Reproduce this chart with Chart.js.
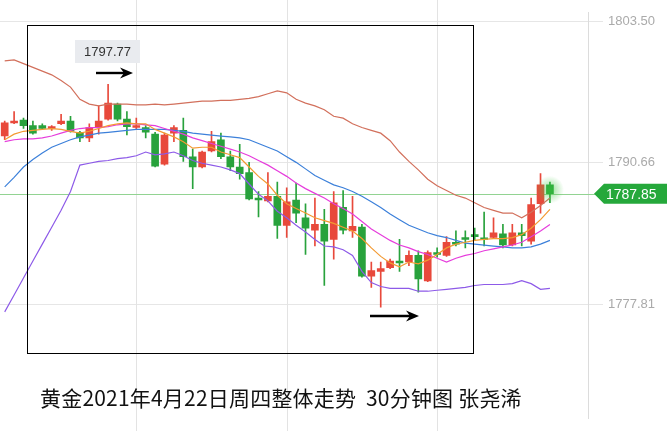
<!DOCTYPE html>
<html>
<head>
<meta charset="utf-8">
<script src="https://cdn.jsdelivr.net/npm/chart.js@4.4.0/dist/chart.umd.min.js"></script>
<style>
  html, body { margin: 0; padding: 0; background: #fff; }
  #wrap { position: relative; width: 671px; height: 431px; overflow: hidden; }
  #titulo {
    position: absolute; left: 40px; top: 383px;
    font-family: "Noto Sans CJK SC", "Noto Sans", sans-serif;
    font-size: 21px; letter-spacing: 0.2px; color: #111; white-space: pre; line-height: 28px;
  }
</style>
</head>
<body>
<div id="wrap">
  <canvas id="myChart" width="671" height="431"></canvas>
  <div id="titulo">黄金2021年4月22日周四整体走势  30分钟图 张尧浠</div>
</div>
<script>
// velas 30 minutos (apertura, maximo, minimo, cierre)
var aperturas = [1793.10, 1794.28, 1794.54, 1794.03, 1794.03, 1793.77, 1794.20, 1794.45, 1793.43, 1792.92,
  1793.86, 1794.62, 1795.99, 1794.62, 1793.86, 1793.86, 1793.26, 1790.53, 1793.35, 1793.60,
  1791.21, 1790.28, 1791.73, 1792.75, 1791.21, 1790.28, 1789.77, 1787.46, 1787.21, 1787.63,
  1784.99, 1787.29, 1785.67, 1784.56, 1785.07, 1783.71, 1786.61, 1784.48, 1784.82, 1780.38,
  1780.81, 1781.15, 1781.75, 1781.66, 1782.26, 1779.95, 1782.51, 1782.26, 1783.45, 1783.88,
  1784.14, 1783.79, 1783.88, 1784.22, 1783.20, 1784.31, 1783.54, 1786.95, 1788.66];
var cierres = [1794.28, 1794.45, 1794.03, 1793.35, 1793.77, 1793.94, 1794.45, 1793.52, 1792.92, 1793.86,
  1794.45, 1796.08, 1794.62, 1793.94, 1794.03, 1793.43, 1790.36, 1793.18, 1793.86, 1791.21,
  1790.28, 1791.64, 1792.58, 1791.21, 1790.28, 1789.68, 1787.38, 1787.29, 1787.63, 1784.99,
  1787.12, 1786.10, 1784.73, 1785.07, 1783.54, 1787.04, 1784.56, 1784.90, 1780.38, 1780.89,
  1781.06, 1781.75, 1781.58, 1782.26, 1780.12, 1782.51, 1782.34, 1783.45, 1783.28, 1783.71,
  1783.96, 1783.71, 1784.31, 1783.20, 1784.31, 1784.05, 1786.87, 1788.66, 1787.85];
var maximos = [1794.45, 1795.31, 1794.71, 1794.45, 1794.20, 1794.03, 1795.06, 1794.88, 1793.52, 1794.20,
  1795.82, 1797.77, 1796.08, 1795.31, 1794.71, 1794.03, 1793.43, 1793.35, 1794.03, 1794.71,
  1791.90, 1791.73, 1793.52, 1793.35, 1791.73, 1792.33, 1790.70, 1788.06, 1789.77, 1788.91,
  1788.40, 1788.83, 1786.95, 1787.46, 1786.44, 1788.06, 1788.15, 1787.63, 1785.07, 1781.66,
  1781.66, 1781.92, 1783.71, 1782.68, 1782.68, 1782.68, 1782.94, 1783.96, 1784.48, 1784.48,
  1784.73, 1786.18, 1785.67, 1785.07, 1785.07, 1785.07, 1787.46, 1789.68, 1788.91];
var minimos = [1792.75, 1794.20, 1793.77, 1793.26, 1793.69, 1793.60, 1794.11, 1793.43, 1792.58, 1792.58,
  1793.26, 1794.54, 1794.45, 1793.18, 1793.69, 1792.92, 1790.28, 1790.45, 1792.58, 1790.79,
  1788.32, 1790.19, 1791.64, 1791.04, 1789.94, 1789.17, 1787.29, 1785.76, 1787.12, 1783.79,
  1783.88, 1785.24, 1782.34, 1783.11, 1779.53, 1781.92, 1784.22, 1783.88, 1780.29, 1779.36,
  1777.56, 1781.06, 1780.81, 1781.32, 1778.93, 1779.87, 1782.09, 1782.17, 1783.11, 1782.94,
  1783.62, 1783.11, 1783.79, 1782.94, 1783.11, 1783.11, 1783.28, 1786.10, 1787.04];

// bollinger y medias
var bandaSup = [1799.91, 1800.00, 1799.66, 1799.32, 1798.98, 1798.64, 1798.13, 1797.53, 1796.42, 1795.99,
  1795.82, 1795.99, 1795.99, 1795.99, 1795.91, 1795.91, 1795.99, 1795.91, 1795.99, 1796.08,
  1796.16, 1796.25, 1796.25, 1796.33, 1796.33, 1796.42, 1796.50, 1796.67, 1796.93, 1797.18,
  1797.01, 1796.42, 1796.08, 1795.82, 1795.48, 1794.88, 1794.71, 1794.20, 1793.86, 1793.60,
  1793.35, 1792.67, 1791.64, 1790.79, 1790.02, 1789.17, 1788.57, 1788.15, 1787.72, 1787.46,
  1787.04, 1786.61, 1786.35, 1786.10, 1786.10, 1785.67, 1786.18, 1786.78, 1787.46];
var bandaMed = [1788.48, 1789.34, 1790.28, 1790.96, 1791.56, 1792.07, 1792.41, 1792.75, 1793.01, 1793.18,
  1793.35, 1793.43, 1793.52, 1793.60, 1793.69, 1793.69, 1793.69, 1793.69, 1793.60, 1793.52,
  1793.35, 1793.26, 1793.18, 1793.09, 1793.01, 1792.92, 1792.75, 1792.41, 1792.07, 1791.73,
  1791.21, 1790.70, 1790.11, 1789.51, 1789.08, 1788.66, 1788.40, 1788.06, 1787.63, 1787.12,
  1786.61, 1786.01, 1785.50, 1784.99, 1784.65, 1784.31, 1784.05, 1783.88, 1783.62, 1783.37,
  1783.28, 1783.20, 1783.11, 1783.03, 1782.94, 1782.94, 1783.03, 1783.28, 1783.62];
var bandaInf = [1777.14, 1778.67, 1780.21, 1781.75, 1783.28, 1784.82, 1786.35, 1788.06, 1790.45, 1790.62,
  1790.79, 1790.87, 1791.04, 1791.13, 1791.30, 1791.64, 1791.39, 1791.47, 1791.64, 1791.30,
  1790.87, 1790.62, 1790.45, 1790.28, 1790.02, 1789.68, 1788.74, 1787.80, 1787.21, 1786.27,
  1785.67, 1784.99, 1784.39, 1783.71, 1783.11, 1783.03, 1782.77, 1782.26, 1780.81, 1779.79,
  1779.44, 1779.27, 1779.27, 1779.27, 1779.01, 1779.01, 1779.10, 1779.18, 1779.27, 1779.36,
  1779.53, 1779.62, 1779.62, 1779.62, 1779.70, 1779.96, 1779.70, 1779.18, 1779.27];
var mediaCorta = [1792.75, 1793.26, 1793.52, 1793.60, 1793.69, 1793.77, 1793.69, 1793.52, 1793.35, 1793.52,
  1793.77, 1794.03, 1794.20, 1794.28, 1794.20, 1794.20, 1793.69, 1793.35, 1793.01, 1792.58,
  1791.99, 1792.07, 1792.07, 1791.64, 1791.39, 1791.13, 1790.28, 1789.43, 1788.74, 1787.72,
  1786.95, 1786.52, 1786.10, 1785.67, 1785.41, 1785.16, 1784.82, 1784.48, 1783.79, 1782.94,
  1782.17, 1781.58, 1781.23, 1781.66, 1781.49, 1781.83, 1782.34, 1782.94, 1783.28, 1783.45,
  1783.62, 1783.71, 1783.79, 1783.79, 1783.88, 1784.14, 1784.73, 1785.50, 1786.44];
var mediaLarga = [1792.58, 1792.75, 1792.84, 1792.84, 1792.92, 1793.09, 1793.35, 1793.60, 1793.77, 1793.86,
  1793.86, 1793.94, 1794.11, 1794.20, 1794.20, 1794.11, 1794.03, 1793.77, 1793.52, 1793.26,
  1792.92, 1792.67, 1792.41, 1792.16, 1791.90, 1791.64, 1791.30, 1790.87, 1790.45, 1789.94,
  1789.43, 1788.83, 1788.32, 1787.89, 1787.46, 1786.95, 1786.52, 1786.01, 1785.33, 1784.65,
  1784.14, 1783.62, 1783.20, 1782.94, 1782.60, 1782.34, 1782.00, 1781.66, 1782.00, 1782.26,
  1782.43, 1782.68, 1782.85, 1783.03, 1783.20, 1783.45, 1783.96, 1784.48, 1785.07];

var ticksY = [1803.50, 1790.66, 1777.81];
var lineasX = [14, 30, 46];

var ROJO = '#e8493b';
var VERDE = '#28a23c';

var cuerpos = [], mechas = [], colores = [];
for (var i = 0; i < cierres.length; i++) {
    cuerpos.push({x: i, y: [aperturas[i], cierres[i]]});
    mechas.push({x: i, y: [minimos[i], maximos[i]]});
    colores.push(cierres[i] >= aperturas[i] ? ROJO : VERDE);
}

function serie(arr) {
    return arr.map(function(v, i){ return {x: i, y: v}; });
}

function linea(datos, color) {
    return {
        type: 'line',
        data: serie(datos),
        borderColor: color,
        borderWidth: 1.2,
        pointRadius: 0,
        tension: 0,
        fill: false
    };
}

var extras = {
    id: 'extras',
    beforeDatasetsDraw: function(chart) {
        var ctx = chart.ctx, xs = chart.scales.x;
        ctx.save();
        ctx.strokeStyle = '#e3e3e3';
        ctx.lineWidth = 1;
        lineasX.forEach(function(v){
            var px = Math.round(xs.getPixelForValue(v)) + 0.5;
            ctx.beginPath();
            ctx.moveTo(px, 0);
            ctx.lineTo(px, 431);
            ctx.stroke();
        });
        // precio actual
        var ultimo = cierres[cierres.length - 1];
        var py = Math.round(chart.scales.y.getPixelForValue(ultimo)) + 0.5;
        ctx.strokeStyle = '#92d392';
        ctx.beginPath();
        ctx.moveTo(0, py);
        ctx.lineTo(596, py);
        ctx.stroke();
        ctx.restore();
    },
    afterDatasetsDraw: function(chart) {
        var ctx = chart.ctx, xs = chart.scales.x, ys = chart.scales.y;
        ctx.save();
        var n = cierres.length - 1;
        var ultimo = cierres[n];
        var py = ys.getPixelForValue(ultimo);

        // brillo de la ultima vela
        var gx = xs.getPixelForValue(n), gy = py - 4;
        var g = ctx.createRadialGradient(gx, gy, 0, gx, gy, 14);
        g.addColorStop(0, 'rgba(60,200,60,0.55)');
        g.addColorStop(1, 'rgba(60,200,60,0)');
        ctx.fillStyle = g;
        ctx.fillRect(gx - 15, gy - 15, 30, 30);

        // etiqueta precio
        ctx.fillStyle = '#25a83b';
        ctx.beginPath();
        ctx.moveTo(594, py);
        ctx.lineTo(604, py - 10);
        ctx.lineTo(667, py - 10);
        ctx.lineTo(667, py + 10);
        ctx.lineTo(604, py + 10);
        ctx.closePath();
        ctx.fill();
        ctx.fillStyle = '#fff';
        ctx.font = '14px "Liberation Sans", Arial, sans-serif';
        ctx.textAlign = 'left';
        ctx.textBaseline = 'middle';
        ctx.fillText(ultimo.toFixed(2), 606, py + 1);

        // recuadro negro
        ctx.strokeStyle = '#000';
        ctx.lineWidth = 1;
        ctx.strokeRect(27.5, 25.5, 446, 328);

        // maximo
        var maxV = Math.max.apply(null, maximos);
        ctx.fillStyle = '#e9ebef';
        ctx.fillRect(75, 40, 65, 23);
        ctx.fillStyle = '#333';
        ctx.font = '13px "Liberation Sans", Arial, sans-serif';
        ctx.textAlign = 'center';
        ctx.fillText(maxV.toFixed(2), 107.5, 52);

        flecha(ctx, 96, 133, 73);
        flecha(ctx, 370, 419, 316);
        ctx.restore();
    }
};

function flecha(ctx, x1, x2, y) {
    ctx.strokeStyle = '#000';
    ctx.fillStyle = '#000';
    ctx.lineWidth = 2.4;
    ctx.beginPath();
    ctx.moveTo(x1, y);
    ctx.lineTo(x2 - 8, y);
    ctx.stroke();
    ctx.beginPath();
    ctx.moveTo(x2, y);
    ctx.lineTo(x2 - 13, y - 5.5);
    ctx.lineTo(x2 - 9, y);
    ctx.lineTo(x2 - 13, y + 5.5);
    ctx.closePath();
    ctx.fill();
}

var newChar = document.getElementById('myChart');

var charGrafico = new Chart(newChar, {
    type: 'bar',
    data: {
        datasets: [
            linea(bandaSup, '#d2705c'),
            linea(mediaCorta, '#f39a32'),
            linea(mediaLarga, '#e63ddc'),
            linea(bandaMed, '#3c80da'),
            linea(bandaInf, '#8d5ae8'),
            {
                data: cuerpos,
                backgroundColor: colores,
                barThickness: 7,
                grouped: false,
                minBarLength: 1.5,
                borderWidth: 0
            },
            {
                data: mechas,
                backgroundColor: colores,
                barThickness: 1,
                grouped: false,
                borderWidth: 0
            }
        ]
    },
    options: {
        responsive: false,
        devicePixelRatio: 1,
        animation: false,
        layout: { padding: 0 },
        plugins: {
            legend: { display: false },
            tooltip: { enabled: false }
        },
        scales: {
            x: {
                type: 'linear',
                display: false,
                offset: false,
                min: -0.5,
                max: 62.05
            },
            y: {
                position: 'right',
                min: 1767.49,
                max: 1804.27,
                afterBuildTicks: function(scale) {
                    scale.ticks = ticksY.map(function(v){ return {value: v}; });
                },
                afterFit: function(scale) {
                    scale.width = 83;
                },
                grid: {
                    color: '#e6e6e6',
                    tickLength: 15
                },
                border: { color: '#dcdcdc' },
                ticks: {
                    padding: 5,
                    color: '#aaaaaa',
                    font: { family: '"Liberation Sans", Arial, sans-serif', size: 13 },
                    callback: function(v){ return Number(v).toFixed(2); }
                }
            }
        }
    },
    plugins: [extras]
});
</script>
</body>
</html>
